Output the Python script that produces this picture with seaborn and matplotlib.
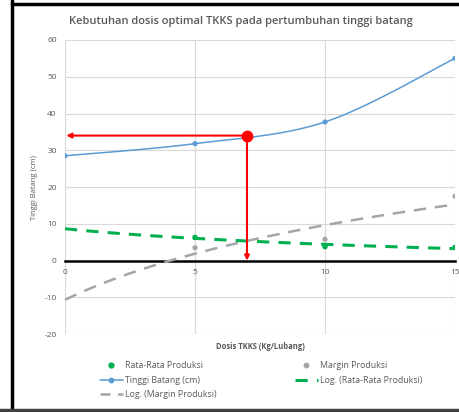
import numpy as np
import pandas as pd
import matplotlib
matplotlib.use("Agg")
import matplotlib.pyplot as plt
import seaborn as sns
from matplotlib.lines import Line2D

# ---- data ----
dosis = [0, 5, 10, 15]
tinggi_batang = [28.5, 31.8, 37.7, 55.0]
dosis_produksi = [5, 10, 15]
rata_produksi = [6.3, 3.8, 3.6]
margin_produksi = [3.5, 5.8, 17.5]
opt_dosis = [7]
opt_tinggi = [34]
x_ticks = [0, 5, 10, 15]
y_ticks = [-20, -10, 0, 10, 20, 30, 40, 50, 60]
log_shift = 6  # x offset used by the log trendlines

title = "Kebutuhan dosis optimal TKKS pada pertumbuhan tinggi batang"
xlabel = "Dosis TKKS (Kg/Lubang)"
ylabel = "Tinggi Batang (cm)"
labels = ["Rata-Rata Produksi", "Margin Produksi", "Tinggi Batang (cm)",
          "Log. (Rata-Rata Produksi)", "Log. (Margin Produksi)"]

BLUE = "#5B9BD5"
GREEN = "#00B050"
GRAY = "#A5A5A5"
RED = "#FF0000"
TXT = "#595959"

sns.set_theme(style="white")
plt.rcParams["font.family"] = ["Open Sans", "DejaVu Sans"]


def smooth(x, y, n=40):
    P = np.column_stack([np.asarray(x, float), np.asarray(y, float)])
    out = []
    for i in range(len(P) - 1):
        p0 = P[i - 1] if i > 0 else P[i]
        p3 = P[i + 2] if i + 2 < len(P) else P[i + 1]
        p1, p2 = P[i], P[i + 1]
        c1 = p1 + (p2 - p0) / 6
        c2 = p2 - (p3 - p1) / 6
        t = np.linspace(0, 1, n)[:, None]
        seg = (1 - t) ** 3 * p1 + 3 * (1 - t) ** 2 * t * c1 + 3 * (1 - t) * t ** 2 * c2 + t ** 3 * p2
        out.append(seg if i == 0 else seg[1:])
    return np.vstack(out)


fig = plt.figure(figsize=(4.6, 4.12), dpi=100)
ax = fig.add_axes([0.1413, 0.189, 0.8478, 0.714])

# trendlines (least-squares log fit)
xs = np.linspace(0, 15, 200)
lx = np.log(np.array(dosis_produksi) + log_shift)
b_rr, a_rr = np.polyfit(lx, rata_produksi, 1)
b_mp, a_mp = np.polyfit(lx, margin_produksi, 1)
trend = pd.DataFrame({
    "x": xs,
    "rr": a_rr + b_rr * np.log(xs + log_shift),
    "mp": a_mp + b_mp * np.log(xs + log_shift),
})
ax.plot(trend["x"], trend["mp"], color=GRAY, lw=1.8, dashes=(5, 3.5), zorder=3)
ax.plot(trend["x"], trend["rr"], color=GREEN, lw=2.2, dashes=(4, 3), zorder=3)

# points
df_p = pd.DataFrame({"x": dosis_produksi, "rr": rata_produksi, "mp": margin_produksi})
sns.scatterplot(data=df_p, x="x", y="mp", ax=ax, color=GRAY, s=14, edgecolor="none", zorder=4)
sns.scatterplot(data=df_p, x="x", y="rr", ax=ax, color=GREEN, s=16, edgecolor="none", zorder=4)

# Tinggi batang smooth line
curve = smooth(dosis, tinggi_batang)
ax.plot(curve[:, 0], curve[:, 1], color=BLUE, lw=1.1, zorder=5)
df_t = pd.DataFrame({"x": dosis, "y": tinggi_batang})
sns.scatterplot(data=df_t, x="x", y="y", ax=ax, color=BLUE, s=14, edgecolor="none", zorder=6)

# optimum arrows
ax.annotate("", xy=(0.05, opt_tinggi[0]), xytext=(opt_dosis[0], opt_tinggi[0]),
            arrowprops=dict(arrowstyle="-|>", color=RED, lw=1.5, mutation_scale=7,
                            shrinkA=0, shrinkB=0), zorder=7)
ax.annotate("", xy=(opt_dosis[0], 0), xytext=(opt_dosis[0], opt_tinggi[0]),
            arrowprops=dict(arrowstyle="-|>", color=RED, lw=1.5, mutation_scale=7,
                            shrinkA=0, shrinkB=0), zorder=7)
ax.plot(opt_dosis, opt_tinggi, "o", color=RED, ms=7.5, zorder=8)

# axes styling
ax.set_xlim(0, 15)
ax.set_ylim(-20, 60)
ax.set_xticks(x_ticks)
ax.set_yticks(y_ticks)
ax.set_xticklabels([str(v) for v in x_ticks])
ax.set_yticklabels([str(v) for v in y_ticks])
ax.grid(True, color="#d9d9d9", lw=0.8)
ax.set_axisbelow(True)
for s in ["top", "left", "right"]:
    ax.spines[s].set_visible(False)
ax.spines["bottom"].set_position(("data", 0))
ax.spines["bottom"].set_color("black")
ax.spines["bottom"].set_linewidth(1.8)
ax.spines["bottom"].set_zorder(2)
ax.tick_params(axis="both", length=0, labelsize=6, labelcolor=TXT)
ax.tick_params(axis="x", pad=6)
ax.tick_params(axis="y", pad=6)
ax.set_xlabel("")
ax.set_ylabel("")

fig.text(0.524, 0.947, title, ha="center", va="center", fontsize=8, color=TXT,
         fontweight="semibold")
fig.text(0.566, 0.158, xlabel, ha="center", va="center", fontsize=5.5, color=TXT, fontweight="bold")
fig.text(0.076, 0.544, ylabel, ha="center", va="center", fontsize=5.5, color=TXT, rotation=90)

h_rr = Line2D([], [], marker="o", ls="none", color=GREEN, ms=3.5)
h_mp = Line2D([], [], marker="o", ls="none", color=GRAY, ms=3.2)
h_tb = Line2D([], [], marker="o", color=BLUE, ms=3.2, lw=1.1)
h_lrr = Line2D([], [], color=GREEN, lw=2.2, dashes=(4, 3))
h_lmp = Line2D([], [], color=GRAY, lw=1.8, dashes=(4, 3))
handles = [h_rr, h_tb, h_lmp, h_mp, h_lrr]
labs = [labels[0], labels[2], labels[4], labels[1], labels[3]]
fig.legend(handles, labs, loc="center", bbox_to_anchor=(0.568, 0.077), ncol=2,
           frameon=False, fontsize=6.3, labelcolor=TXT, columnspacing=8.9,
           handlelength=2.6, handletextpad=0.3, labelspacing=0.65)

# outer frame
fig.add_artist(Line2D([12 / 460, 12 / 460], [0, 1], color="black", lw=2.5))
fig.add_artist(Line2D([12 / 460, 1], [1 - 4 / 412, 1 - 4 / 412], color="black", lw=2.5))
fig.add_artist(Line2D([0, 1], [1 - 410 / 412, 1 - 410 / 412], color="#404040", lw=2.5))

fig.savefig("out.png", dpi=100)
